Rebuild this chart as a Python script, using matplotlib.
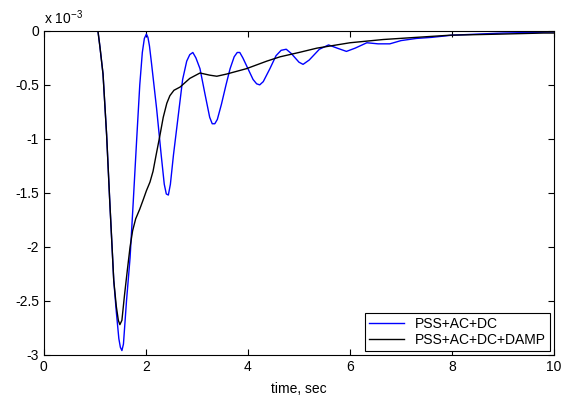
import numpy as np
import matplotlib.pyplot as plt

plt.rcParams['font.family'] = ['Liberation Sans', 'DejaVu Sans']
plt.rcParams['axes.unicode_minus'] = False
plt.rcParams['mathtext.fontset'] = 'custom'
plt.rcParams['mathtext.rm'] = 'Liberation Sans'
plt.rcParams['mathtext.it'] = 'Liberation Sans'

# time (sec) and response values (x 1e-3)
t_pss = [0, 1.0, 1.06, 1.1, 1.16, 1.23, 1.29, 1.37, 1.42, 1.47, 1.5, 1.53, 1.56, 1.62, 1.69, 1.75,
         1.82, 1.88, 1.93, 1.97, 2.01, 2.04, 2.07, 2.11, 2.21, 2.3, 2.36, 2.4, 2.44, 2.48, 2.54, 2.63, 2.72,
         2.8, 2.86, 2.92, 2.98, 3.06, 3.16, 3.25, 3.3, 3.35, 3.4, 3.48, 3.57, 3.65, 3.73, 3.79, 3.84, 3.9,
         3.97, 4.1, 4.17, 4.23, 4.3, 4.43, 4.55, 4.65, 4.75, 4.85, 5.0, 5.08, 5.2, 5.4, 5.58, 5.75, 5.93,
         6.1, 6.33, 6.55, 6.78, 7.0, 7.3, 7.6, 8.0, 8.5, 9.0, 10.0]
y_pss = [0, 0, 0, -0.15, -0.4, -0.96, -1.56, -2.31, -2.6, -2.85, -2.93, -2.96, -2.9, -2.5, -2.1, -1.6,
         -1.0, -0.5, -0.2, -0.07, -0.03, -0.06, -0.14, -0.3, -0.72, -1.15, -1.42, -1.51, -1.52, -1.42, -1.15, -0.8, -0.45,
         -0.28, -0.22, -0.2, -0.25, -0.35, -0.59, -0.8, -0.86, -0.86, -0.82, -0.68, -0.5, -0.35, -0.24, -0.2, -0.2, -0.25,
         -0.32, -0.45, -0.49, -0.5, -0.47, -0.35, -0.23, -0.18, -0.17, -0.21, -0.29, -0.31, -0.27, -0.17, -0.13, -0.16, -0.19,
         -0.16, -0.11, -0.12, -0.12, -0.09, -0.07, -0.06, -0.04, -0.03, -0.02, -0.01]

t_damp = [0, 1.0, 1.06, 1.1, 1.16, 1.23, 1.29, 1.37, 1.42, 1.46, 1.49, 1.53, 1.58, 1.64, 1.69,
          1.74, 1.8, 1.88, 1.95, 2.01, 2.08, 2.14, 2.2, 2.27, 2.34, 2.41, 2.47, 2.55, 2.67,
          2.86, 3.06, 3.25, 3.39, 3.58, 3.97, 4.37, 4.63, 5.0, 5.35, 6.0, 6.65, 7.3, 7.96,
          8.94, 9.79, 10.0]
y_damp = [0, 0, 0, -0.15, -0.4, -0.96, -1.56, -2.31, -2.55, -2.68, -2.72, -2.68, -2.45, -2.2, -2.0,
          -1.85, -1.74, -1.65, -1.56, -1.48, -1.4, -1.3, -1.15, -0.98, -0.8, -0.67, -0.6, -0.55, -0.52,
          -0.44, -0.39, -0.41, -0.42, -0.4, -0.35, -0.28, -0.24, -0.2, -0.16, -0.11, -0.08, -0.06, -0.04,
          -0.03, -0.02, -0.02]

fig = plt.figure(figsize=(5.62, 4.01), dpi=100)
ax = fig.add_axes([0.078, 0.115, 0.908, 0.808])

ax.plot(t_pss, np.array(y_pss) * 1e-3, color='#0000ff', linewidth=1.0, label='PSS+AC+DC')
ax.plot(t_damp, np.array(y_damp) * 1e-3, color='black', linewidth=1.0, label='PSS+AC+DC+DAMP')

ax.set_xlim(0, 10)
ax.set_ylim(-3e-3, 0)
ax.set_xticks(np.arange(0, 11, 2))
ax.set_yticks(np.arange(-3e-3, 1e-4, 0.5e-3))
ax.set_yticklabels(['-3', '-2.5', '-2', '-1.5', '-1', '-0.5', '0'])
ax.tick_params(direction='in', length=4, labelsize=10, top=True, right=True)
ax.set_xlabel('time, sec', fontsize=10, labelpad=6)
ax.text(0.0, 1.012, r'x 10$^{-3}$', transform=ax.transAxes, fontsize=10, ha='left', va='bottom')

leg = ax.legend(loc='lower right', fontsize=10, fancybox=False, edgecolor='black',
                framealpha=1, borderaxespad=0.3, handlelength=2.5, borderpad=0.3,
                labelspacing=0.1)
leg.get_frame().set_linewidth(0.8)

fig.savefig('out.png', dpi=100)
